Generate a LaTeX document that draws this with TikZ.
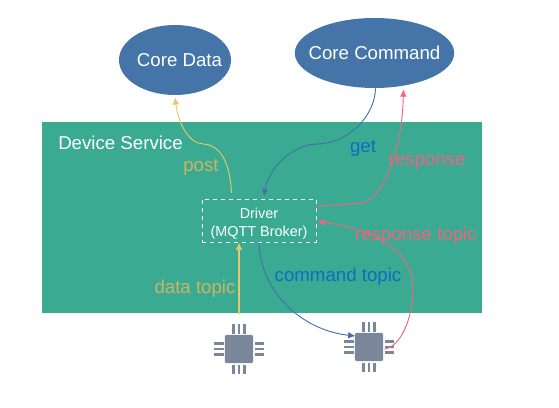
\documentclass[tikz,border=0pt]{standalone}
\usepackage{fontspec}
\setmainfont{Liberation Sans}
\usetikzlibrary{calc}
\usetikzlibrary{arrows.meta}
\usetikzlibrary{shapes.geometric}
\definecolor{corecolor}{HTML}{4474A8}
\definecolor{servicecolor}{HTML}{3AAA92}
\definecolor{chipcolor}{HTML}{7A8699}
\definecolor{dataline}{HTML}{E4C96C}
\definecolor{cmdline}{HTML}{4472A8}
\definecolor{respline}{HTML}{F0647C}
\definecolor{cmdtext}{HTML}{0A6FC2}
\newcommand{\chippins}[1]{
  \foreach \d in {-5.7,0,5.7}{
    \draw[ChipPin] ($(#1)+(\d,-25)$)--($(#1)+(\d,-15.5)$);
    \draw[ChipPin] ($(#1)+(\d,15.5)$)--($(#1)+(\d,25)$);
    \draw[ChipPin] ($(#1)+(-25,\d)$)--($(#1)+(-15.5,\d)$);
    \draw[ChipPin] ($(#1)+(15.5,\d)$)--($(#1)+(25,\d)$);
  }
}

\begin{document}
\begin{tikzpicture}[
x=0.75pt,y=-0.75pt,
Core/.style={ellipse,fill=corecolor,inner sep=0pt},
CoreName/.style={text=white,font=\fontsize{14}{16}\selectfont},
Chip/.style={fill=chipcolor,draw=white,line width=0.3pt,rounded corners=1pt,minimum size=21.5pt,inner sep=0pt},
ChipPin/.style={draw=chipcolor,line width=2pt},
Lbl/.style={font=\fontsize{14}{16}\selectfont},
Flow/.style={-{Latex[length=5.5pt, width=5pt]},line width=0.7pt}
]
\useasboundingbox (0,0) rectangle (559,407);

\node[fill=servicecolor,minimum width=330pt,minimum height=143.25pt,inner sep=0pt] (Service) at (262,217.5) {};
\node[Lbl,text=white] (ServiceName) at (120.5,143) {Device Service};

\node[Core,minimum width=84pt,minimum height=52.5pt,label={[CoreName,xshift=3.4pt]center:Core Data}] (CoreData) at (175,60) {};
\node[Core,minimum width=119.5pt,minimum height=52.5pt,label={[CoreName]center:Core Command}] (CoreCommand) at (374.5,53) {};

\node[draw=white,dashed,line width=0.6pt,inner sep=0pt,minimum width=85.5pt,minimum height=32.25pt,label={[text=white,align=center,yshift=-2.2pt,font=\fontsize{10.8}{13.5}\selectfont]center:Driver\\(MQTT Broker)}] (Driver) at (259,220.5) {};

\node[Chip] (ChipA) at (239,349) {};
\node[Chip] (ChipB) at (369,347) {};
\chippins{ChipA}
\chippins{ChipB}

\coordinate (PostStart) at (231.5,193);
\coordinate (PostMid) at (203,144);
\coordinate (GetMid) at (317,144);
\coordinate (RespMid) at (363,203);
\coordinate (TopicMid) at (413,287);

\draw[Flow,dataline] (PostStart) .. controls (230,165) and (222,145) .. (PostMid) .. controls (188,143) and (178,122) .. ($(CoreData.south)+(0,2)$);
\draw[Flow,cmdline] ($(CoreCommand.south)+(1,0)$) .. controls (375,115) and (350,143) .. (GetMid) .. controls (290,145) and (268,170) .. ($(Driver.north)+(5,-2)$);
\draw[Flow,respline] ($(Driver.east)+(0,-14)$) .. controls (340,204) and (352,204) .. (RespMid) .. controls (385,195) and (402,150) .. ($(CoreCommand.south)+(29,1)$);
\draw[Flow,respline] ($(ChipB.east)+(1,2)$) .. controls (400,347) and (413,320) .. (TopicMid) .. controls (413,250) and (370,228) .. ($(Driver.east)+(1,1)$);
\draw[Flow,cmdline] (Driver.south) .. controls (260,290) and (300,330) .. ($(ChipB.west)+(1,-11)$);
\draw[Flow,dataline,line width=1pt] ($(ChipA.north)+(0,-20)$) -- ($(ChipA.north)+(0,-92)$);

\node[Lbl,text=dataline!90!black] (PostName) at (201,167) {post};
\node[Lbl,text=cmdtext] (GetName) at (363,148) {get};
\node[Lbl,text=respline] (RespName) at (427,162) {response};
\node[Lbl,text=respline] (TopicName) at (416,236) {response topic};
\node[Lbl,text=cmdtext] (CmdName) at (338,277) {command topic};
\node[Lbl,text=dataline!90!black] (DataName) at (195,289) {data topic};

\end{tikzpicture}
\end{document}
